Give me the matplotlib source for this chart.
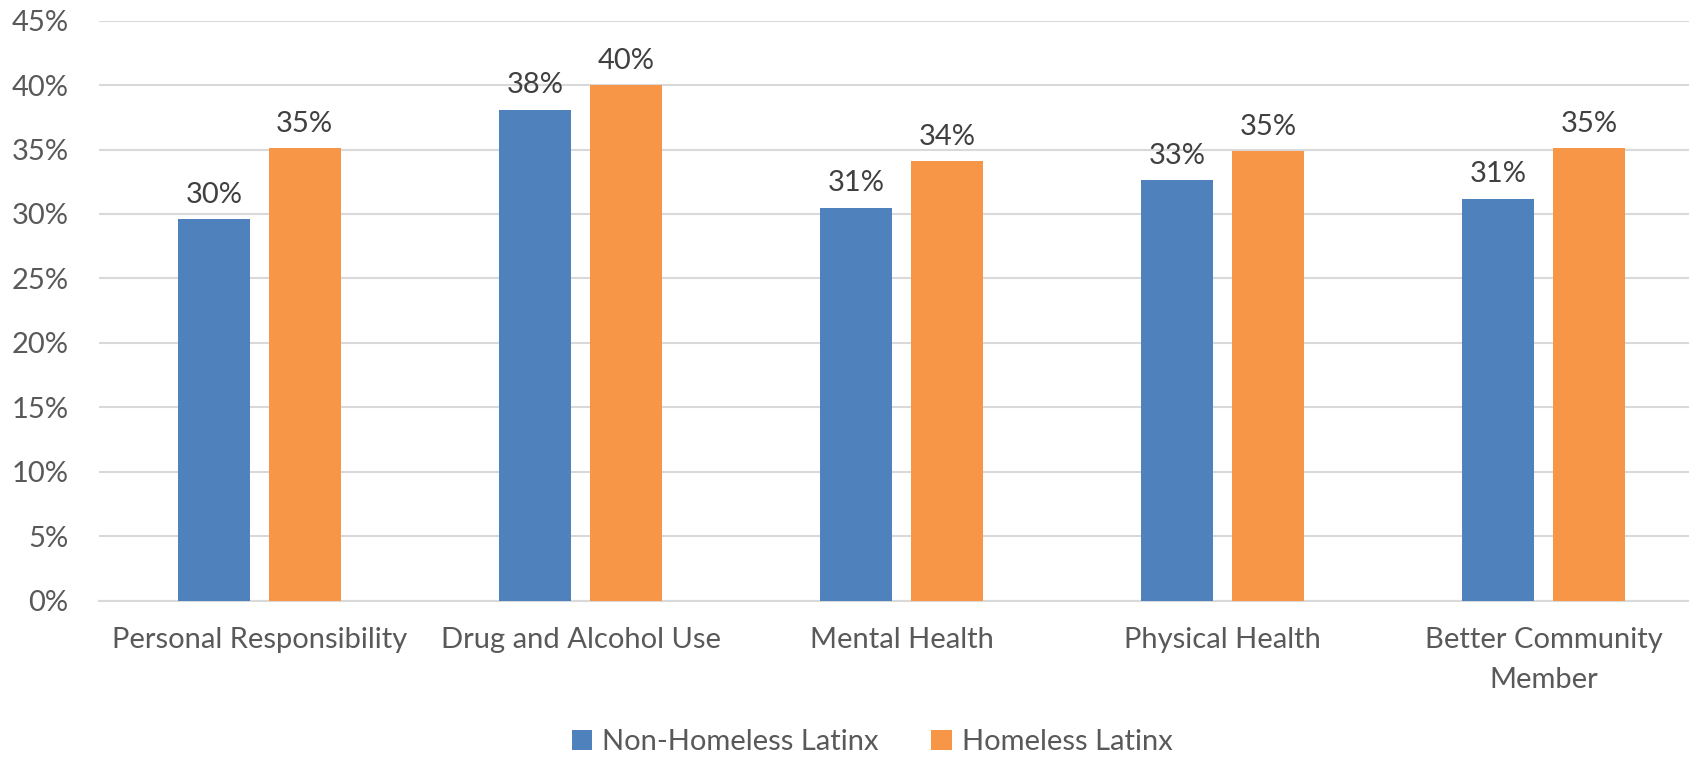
import matplotlib
matplotlib.use("Agg")
import matplotlib.pyplot as plt
import numpy as np

# Data
categories = ["Personal Responsibility", "Drug and Alcohol Use", "Mental Health",
              "Physical Health", "Better Community\nMember"]
non_homeless = [0.296, 0.381, 0.305, 0.326, 0.312]
homeless = [0.351, 0.400, 0.341, 0.349, 0.351]
non_homeless_labels = ["30%", "38%", "31%", "33%", "31%"]
homeless_labels = ["35%", "40%", "34%", "35%", "35%"]
series_names = ["Non-Homeless Latinx", "Homeless Latinx"]
yticks = [0, 0.05, 0.10, 0.15, 0.20, 0.25, 0.30, 0.35, 0.40, 0.45]

blue = "#4F81BD"
orange = "#F79646"
text_color = "#595959"
label_color = "#404040"
fs = 21

plt.rcParams["font.family"] = ["Lato", "DejaVu Sans"]

fig = plt.figure(figsize=(16.9, 7.57), dpi=100)
ax = fig.add_axes([99 / 1690, 1 - 600.5 / 757, 1 - 99 / 1690, (600.5 - 20.7) / 757])

x = np.arange(len(categories))
w = 0.225
off = 0.141
b1 = ax.bar(x - off, non_homeless, w, color=blue, label=series_names[0], zorder=3)
b2 = ax.bar(x + off, homeless, w, color=orange, label=series_names[1], zorder=3)

for bars, labels in [(b1, non_homeless_labels), (b2, homeless_labels)]:
    for rect, lab in zip(bars, labels):
        ax.annotate(lab, (rect.get_x() + rect.get_width() / 2, rect.get_height()),
                    xytext=(0, 8), textcoords="offset points", ha="center", va="bottom",
                    fontsize=fs, color=label_color)

ax.set_ylim(0, 0.45)
ax.set_xlim(-0.5, 4.456)
ax.set_yticks(yticks)
ax.set_yticklabels([f"{int(round(t * 100))}%" for t in yticks])
ax.set_xticks(x)
ax.set_xticklabels(categories, linespacing=1.65)
ax.tick_params(axis="y", length=0, pad=22, labelsize=fs, labelcolor=text_color)
ax.tick_params(axis="x", length=0, pad=19, labelsize=fs, labelcolor=text_color)

ax.grid(axis="y", color="#D9D9D9", linewidth=1.5, zorder=0)
for s in ["top", "right", "left"]:
    ax.spines[s].set_visible(False)
ax.spines["bottom"].set_color("#D9D9D9")
ax.spines["bottom"].set_linewidth(1.5)

fig.legend(handles=[b1, b2], labels=series_names, loc="center",
           bbox_to_anchor=(872 / 1690, 1 - 742 / 757), ncol=2, frameon=False,
           fontsize=fs, labelcolor=text_color, handlelength=0.7, handleheight=0.7,
           handletextpad=0.35, columnspacing=1.8)

fig.savefig("out.png", dpi=100)
